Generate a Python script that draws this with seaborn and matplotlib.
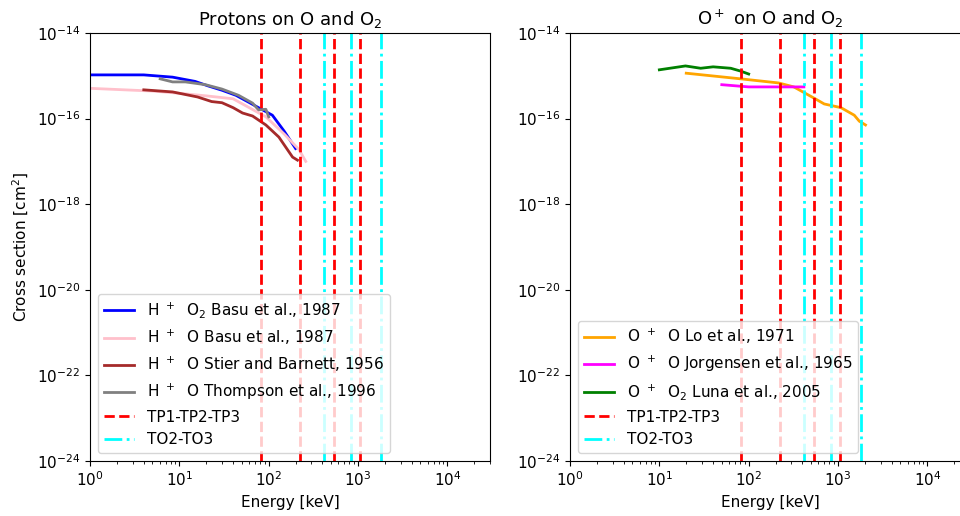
import matplotlib
matplotlib.use("Agg")
import matplotlib.pyplot as plt
import numpy as np
import pandas as pd
import seaborn as sns

# protons on O / O2  (energy in keV, cross section in cm^2)
e_basu_o2 = [1, 2, 4, 8.4, 15, 21, 30, 43, 60, 77, 110, 150, 200]
s_basu_o2 = [1.05e-15, 1.05e-15, 1.05e-15, 9.3e-16, 7.4e-16, 5.8e-16, 4.6e-16,
             3.5e-16, 2.4e-16, 1.8e-16, 1.2e-16, 5.0e-17, 2.0e-17]

e_basu_o = [1, 5, 10, 20, 40, 93, 150, 218, 260]
s_basu_o = [5.1e-16, 4.4e-16, 3.9e-16, 3.4e-16, 2.9e-16, 1.1e-16, 4.3e-17, 1.9e-17, 1.0e-17]

e_stier = [4, 8.4, 16, 23, 30, 40, 51, 66, 93, 130, 185, 210]
s_stier = [4.7e-16, 4.2e-16, 3.2e-16, 2.5e-16, 2.35e-16, 1.8e-16, 1.35e-16,
           1.15e-16, 7.1e-17, 3.7e-17, 1.26e-17, 1.07e-17]

e_thompson = [6.1, 8.4, 11.7, 19.6, 30, 46, 66, 77, 93, 100]
s_thompson = [8.5e-16, 7.2e-16, 7.2e-16, 6.2e-16, 4.9e-16, 3.5e-16, 2.3e-16,
              1.6e-16, 1.65e-16, 1.1e-16]

# O+ on O / O2
e_lo = [20, 81, 217, 320, 540, 700, 1080, 1520, 1730, 2030]
s_lo = [1.15e-15, 8.5e-16, 6.8e-16, 5.5e-16, 3.0e-16, 2.2e-16, 1.8e-16,
        1.2e-16, 8.7e-17, 7.1e-17]

e_jorgensen = [50, 100, 228, 415]
s_jorgensen = [6.2e-16, 5.5e-16, 5.5e-16, 5.5e-16]

e_luna = [10, 19.6, 29, 40, 63, 81, 100]
s_luna = [1.38e-15, 1.7e-15, 1.5e-15, 1.62e-15, 1.5e-15, 1.29e-15, 1.1e-15]

# thresholds
tp_energy = [82, 222, 545, 1050]
to_energy = [420, 830, 1830]

plt.rcParams["font.size"] = 11

fig = plt.figure(figsize=(9.6, 5.16), dpi=100)
ax1 = fig.add_axes([90 / 960, 55 / 516, 400 / 960, 428 / 516])
ax2 = fig.add_axes([570 / 960, 55 / 516, 400 / 960, 428 / 516])

left_series = [
    (e_basu_o2, s_basu_o2, "blue", r"H $^+$  O$_2$ Basu et al., 1987"),
    (e_basu_o, s_basu_o, "pink", r"H $^+$  O Basu et al., 1987"),
    (e_stier, s_stier, "brown", r"H $^+$  O Stier and Barnett, 1956"),
    (e_thompson, s_thompson, "gray", r"H $^+$  O Thompson et al., 1996"),
]
right_series = [
    (e_lo, s_lo, "orange", r"O $^+$  O Lo et al., 1971"),
    (e_jorgensen, s_jorgensen, "magenta", r"O $^+$  O Jorgensen et al., 1965"),
    (e_luna, s_luna, "green", r"O $^+$  O$_2$ Luna et al., 2005"),
]

for ax, series, title in [(ax1, left_series, r"Protons on O and O$_2$"),
                          (ax2, right_series, r"O$^+$ on O and O$_2$")]:
    for e, s, c, lab in series:
        df = pd.DataFrame({"E": e, "sigma": s})
        sns.lineplot(data=df, x="E", y="sigma", color=c, lw=2, label=lab,
                     sort=False, estimator=None, ax=ax)
    for i, v in enumerate(tp_energy):
        ax.axvline(v, color="red", ls="--", lw=2, label="TP1-TP2-TP3" if i == 0 else None)
    for i, v in enumerate(to_energy):
        ax.axvline(v, color="cyan", ls="-.", lw=2, label="TO2-TO3" if i == 0 else None)
    ax.set_xscale("log")
    ax.set_yscale("log")
    ax.set_xlim(1, 3e4)
    ax.set_ylim(1e-24, 1e-14)
    ax.set_xlabel("Energy [keV]")
    ax.set_ylabel("")
    ax.set_title(title, fontsize=13)
    ax.legend(loc="lower left", fontsize=11)

ax1.set_ylabel(r"Cross section [cm$^2$]")

fig.savefig("out.png", dpi=100)
